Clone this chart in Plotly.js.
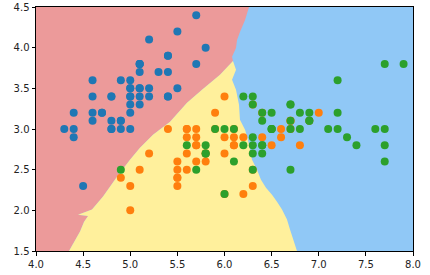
<!DOCTYPE html>
<html>
<head>
<meta charset="utf-8">
<script src="https://cdn.plot.ly/plotly-3.0.1.min.js"></script>
<style>html,body{margin:0;padding:0;background:#fff;}#chart{width:430px;height:275px;}</style>
</head>
<body>
<div id="chart"></div>
<script>
// Class 0 (blue points)
const setosaX = [5.1,4.9,4.7,4.6,5.0,5.4,4.6,5.0,4.4,4.9,5.4,4.8,4.8,4.3,5.8,5.7,5.4,5.1,5.7,5.1,5.4,5.1,4.6,5.1,4.8,5.0,5.0,5.2,5.2,4.7,4.8,5.4,5.2,5.5,4.9,5.0,5.5,4.9,4.4,5.1,5.0,4.5,4.4,5.0,5.1,4.8,5.1,4.6,5.3,5.0];
const setosaY = [3.5,3.0,3.2,3.1,3.6,3.9,3.4,3.4,2.9,3.1,3.7,3.4,3.0,3.0,4.0,4.4,3.9,3.5,3.8,3.8,3.4,3.7,3.6,3.3,3.4,3.0,3.4,3.5,3.4,3.2,3.1,3.4,4.1,4.2,3.1,3.2,3.5,3.6,3.0,3.4,3.5,2.3,3.2,3.5,3.8,3.0,3.8,3.2,3.7,3.3];
// Class 1 (orange points)
const versiX = [7.0,6.4,6.9,5.5,6.5,5.7,6.3,4.9,6.6,5.2,5.0,5.9,6.0,6.1,5.6,6.7,5.6,5.8,6.2,5.6,5.9,6.1,6.3,6.1,6.4,6.6,6.8,6.7,6.0,5.7,5.5,5.5,5.8,6.0,5.4,6.0,6.7,6.3,5.6,5.5,5.5,6.1,5.8,5.0,5.6,5.7,5.7,6.2,5.1,5.7];
const versiY = [3.2,3.2,3.1,2.3,2.8,2.8,3.3,2.4,2.9,2.7,2.0,3.0,2.2,2.9,2.9,3.1,3.0,2.7,2.2,2.5,3.2,2.8,2.5,2.8,2.9,3.0,2.8,3.0,2.9,2.6,2.4,2.4,2.7,2.7,3.0,3.4,3.1,2.3,3.0,2.5,2.6,3.0,2.6,2.3,2.7,3.0,2.9,2.9,2.5,2.8];
// Class 2 (green points)
const virgX = [6.3,5.8,7.1,6.3,6.5,7.6,4.9,7.3,6.7,7.2,6.5,6.4,6.8,5.7,5.8,6.4,6.5,7.7,7.7,6.0,6.9,5.6,7.7,6.3,6.7,7.2,6.2,6.1,6.4,7.2,7.4,7.9,6.4,6.3,6.1,7.7,6.3,6.4,6.0,6.9,6.7,6.9,5.8,6.8,6.7,6.7,6.3,6.5,6.2,5.9];
const virgY = [3.3,2.7,3.0,2.9,3.0,3.0,2.5,2.9,2.5,3.6,3.2,2.7,3.0,2.5,2.8,3.2,3.0,3.8,2.6,2.2,3.2,2.8,2.8,2.7,3.3,3.2,2.8,3.0,2.8,3.0,2.8,3.8,2.8,2.8,2.6,3.0,3.4,3.1,3.0,3.1,3.1,3.1,2.7,3.2,3.3,3.0,2.5,3.0,3.4,3.0];

// Decision-region boundaries
const redBlueX = [6.26,6.218,6.164,6.133,6.122,6.08,6.09];
const redBlueY = [4.5,4.34,4.193,4.095,3.997,3.887,3.837];
const redYellowX = [6.09,5.952,5.761,5.602,5.422,5.241,5.103,4.997,4.859,4.711,4.594,4.446,4.552,4.51,4.467,4.403,4.35];
const redYellowY = [3.837,3.666,3.482,3.322,3.089,2.929,2.77,2.623,2.414,2.169,2.009,1.945,1.93,1.86,1.739,1.604,1.5];
const yellowBlueX = [6.09,6.122,6.08,6.122,6.154,6.164,6.218,6.249,6.271,6.292,6.345,6.387,6.44,6.504,6.557,6.61,6.663,6.695,6.727,6.769];
const yellowBlueY = [3.837,3.727,3.604,3.482,3.298,3.113,2.991,2.868,2.745,2.623,2.5,2.377,2.279,2.193,2.107,2.009,1.887,1.764,1.641,1.5];

const xMin = 4, xMax = 8, yMin = 1.5, yMax = 4.5;
const pink = '#EC9A9A', yellow = '#FFF09C', blue = '#90C8F6';

const redPolyX = [xMin, xMin].concat(redBlueX, redYellowX.slice(1));
const redPolyY = [yMin, yMax].concat(redBlueY, redYellowY.slice(1));
const yelPolyX = redYellowX.concat(yellowBlueX.slice().reverse());
const yelPolyY = redYellowY.concat(yellowBlueY.slice().reverse());

const traces = [
  {x: redPolyX, y: redPolyY, type: 'scatter', mode: 'lines', fill: 'toself', fillcolor: pink, line: {width: 0, color: pink}, hoverinfo: 'skip', showlegend: false},
  {x: yelPolyX, y: yelPolyY, type: 'scatter', mode: 'lines', fill: 'toself', fillcolor: yellow, line: {width: 0, color: yellow}, hoverinfo: 'skip', showlegend: false},
  {x: setosaX, y: setosaY, type: 'scatter', mode: 'markers', marker: {color: '#1f77b4', size: 8}, showlegend: false},
  {x: versiX, y: versiY, type: 'scatter', mode: 'markers', marker: {color: '#ff7f0e', size: 8}, showlegend: false},
  {x: virgX, y: virgY, type: 'scatter', mode: 'markers', marker: {color: '#2ca02c', size: 8}, showlegend: false}
];

const axisCommon = {
  showgrid: false, zeroline: false, showline: true, mirror: true,
  linecolor: '#000', linewidth: 1, ticks: 'outside', ticklen: 3.5, tickcolor: '#000',
  tickformat: '.1f', dtick: 0.5, tickfont: {family: 'DejaVu Sans', size: 10, color: '#222'}
};

const layout = {
  width: 430, height: 275,
  margin: {l: 36, r: 17, t: 7, b: 24},
  paper_bgcolor: '#fff', plot_bgcolor: blue,
  xaxis: Object.assign({}, axisCommon, {range: [xMin, xMax], tick0: 4}),
  yaxis: Object.assign({}, axisCommon, {range: [yMin, yMax], tick0: 1.5}),
  showlegend: false
};

Plotly.newPlot('chart', traces, layout, {displayModeBar: false, staticPlot: true});
</script>
</body>
</html>
